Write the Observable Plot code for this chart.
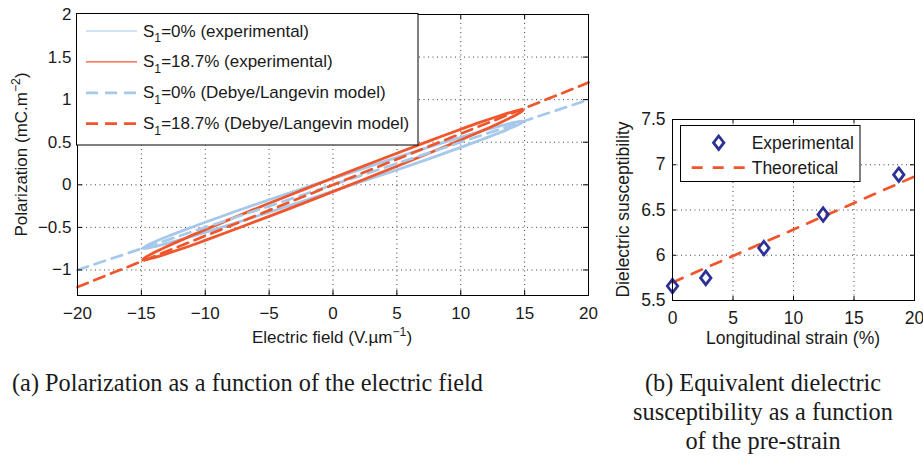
<!DOCTYPE html>
<html>
<head>
<meta charset="utf-8">
<script src="https://cdn.jsdelivr.net/npm/d3@7"></script>
<script src="https://cdn.jsdelivr.net/npm/@observablehq/plot@0.6"></script>
<style>
  html, body { margin: 0; padding: 0; background: #fff; }
  #root { position: relative; width: 923px; height: 465px; background: #fff; overflow: hidden; }
  #root svg { position: absolute; top: 0; }
  .cap { position: absolute; font-family: "Liberation Serif", "Times New Roman", serif; font-size: 24.3px; color: #1a1a1a; white-space: nowrap; line-height: 29px; }
</style>
</head>
<body>
<div id="root"></div>
<script>
// ---------- Data (a): polarization vs electric field ----------
const loopField = [-14.9,-14.6,-14,-13,-11.5,-10,-7.5,-5,-2.5,0,2.5,5,7.5,10,11.5,13,14,14.6,14.9,
                   14.6,14,13,11.5,10,7.5,5,2.5,0,-2.5,-5,-7.5,-10,-11.5,-13,-14,-14.6,-14.9];
const loopPolS0 = [-0.745,-0.714,-0.672,-0.610,-0.523,-0.440,-0.305,-0.176,-0.050,0.075,0.199,0.322,0.443,0.558,0.625,0.688,0.727,0.745,0.745,
                   0.714,0.672,0.610,0.523,0.440,0.305,0.176,0.050,-0.075,-0.199,-0.322,-0.443,-0.558,-0.625,-0.688,-0.727,-0.745,-0.745];
const loopPolS187 = [-0.88,-0.844,-0.796,-0.724,-0.624,-0.526,-0.370,-0.217,-0.068,0.080,0.227,0.371,0.513,0.652,0.733,0.808,0.855,0.878,0.88,
                     0.844,0.796,0.724,0.624,0.526,0.370,0.217,0.068,-0.080,-0.227,-0.371,-0.513,-0.652,-0.733,-0.808,-0.855,-0.878,-0.88];
const modelField = [-20, 20];
const modelPolS0 = [-1.0, 1.0];
const modelPolS187 = [-1.2, 1.2];
const xTicksA = [-20,-15,-10,-5,0,5,10,15,20];
const yTicksA = [-1,-0.5,0,0.5,1,1.5,2];
const legendA = ["=0% (experimental)", "=18.7% (experimental)", "=0% (Debye/Langevin model)", "=18.7% (Debye/Langevin model)"];

// ---------- Data (b): susceptibility vs strain ----------
const strain = [0, 2.75, 7.55, 12.45, 18.7];
const susceptibility = [5.66, 5.75, 6.08, 6.45, 6.89];
const theoStrain = [0, 20];
const theoSusceptibility = [5.70, 6.87];
const xTicksB = [0,5,10,15,20];
const yTicksB = [5.5,6,6.5,7,7.5];
const legendB = ["Experimental", "Theoretical"];

const captionA = "(a) Polarization as a function of the electric field";
const captionB = ["(b) Equivalent dielectric", "susceptibility as a function", "of the pre-strain"];

// ---------- styles ----------
const BLUE = "#a6c8ea", RED = "#f1552b", NAVY = "#2c3194";
const FONT = "'Liberation Sans', Arial, Helvetica, sans-serif";
const fmt = d3.format("~g");
const toPts = (xs, ys) => xs.map((x, i) => ({x, y: ys[i]}));

const tallDiamond = {
  draw(context, size) {
    const r = Math.sqrt(size / Math.PI);
    context.moveTo(0, -r * 1.3);
    context.lineTo(r, 0);
    context.lineTo(0, r * 1.3);
    context.lineTo(-r, 0);
    context.closePath();
  }
};

function richText(sel, parts, size) {
  let prev = "";
  parts.forEach(([t, k]) => {
    let dy = 0;
    if (prev === "sup") dy += 0.42 * size;
    if (prev === "sub") dy -= 0.32 * size;
    if (k === "sup") dy -= 0.42 * size;
    if (k === "sub") dy += 0.32 * size;
    sel.append("tspan").attr("dy", dy).attr("font-size", k ? size * 0.72 : size).text(t);
    prev = k;
  });
}

function frameTicks(xt, yt, xd, yd, w, h, ml, mr, mt, mb, len) {
  const kx = (xd[1] - xd[0]) / (w - ml - mr) * len;
  const ky = (yd[1] - yd[0]) / (h - mt - mb) * len;
  return [
    Plot.ruleX(xt, {x: d => d, y1: yd[0], y2: yd[0] + ky, stroke: "#000", strokeWidth: 1}),
    Plot.ruleX(xt, {x: d => d, y1: yd[1], y2: yd[1] - ky, stroke: "#000", strokeWidth: 1}),
    Plot.ruleY(yt, {y: d => d, x1: xd[0], x2: xd[0] + kx, stroke: "#000", strokeWidth: 1}),
    Plot.ruleY(yt, {y: d => d, x1: xd[1], x2: xd[1] - kx, stroke: "#000", strokeWidth: 1})
  ];
}

const root = document.getElementById("root");

// ---------- Plot (a) ----------
const A = {w: 600, h: 350, ml: 77, mr: 12, mt: 14, mb: 55, xd: [-20, 20], yd: [-1.3, 2]};
const plotA = Plot.plot({
  width: A.w, height: A.h,
  marginLeft: A.ml, marginRight: A.mr, marginTop: A.mt, marginBottom: A.mb,
  style: {fontFamily: FONT, fontSize: "17px", color: "#1a1a1a", background: "transparent", overflow: "visible"},
  x: {domain: A.xd, label: null},
  y: {domain: A.yd, label: null},
  marks: [
    Plot.gridX(xTicksA.slice(1, -1), {stroke: "#000", strokeOpacity: 0.75, strokeDasharray: "1,3.5"}),
    Plot.gridY(yTicksA.slice(0, -1), {stroke: "#000", strokeOpacity: 0.75, strokeDasharray: "1,3.5"}),
    Plot.line(toPts(loopField, loopPolS0), {x: "x", y: "y", stroke: BLUE, strokeWidth: 2.8, curve: "catmull-rom"}),
    Plot.line(toPts(loopField, loopPolS187), {x: "x", y: "y", stroke: RED, strokeWidth: 2.8, curve: "catmull-rom"}),
    Plot.line(toPts(modelField, modelPolS0), {x: "x", y: "y", stroke: BLUE, strokeWidth: 2.7, strokeDasharray: "11,7"}),
    Plot.line(toPts(modelField, modelPolS187), {x: "x", y: "y", stroke: RED, strokeWidth: 2.7, strokeDasharray: "11,7"}),
    ...frameTicks(xTicksA, yTicksA, A.xd, A.yd, A.w, A.h, A.ml, A.mr, A.mt, A.mb, 5),
    Plot.frame({stroke: "#000", strokeWidth: 1}),
    Plot.axisX({ticks: xTicksA, tickFormat: fmt, tickSize: 0, tickPadding: 11, label: null}),
    Plot.axisY({ticks: yTicksA, tickFormat: fmt, tickSize: 0, tickPadding: 6, label: null})
  ]
});
plotA.style.left = "0px";
root.appendChild(plotA);
{
  const s = d3.select(plotA);
  s.append("text").attr("x", 332).attr("y", 343).attr("text-anchor", "middle")
    .attr("font-family", FONT).attr("fill", "#1a1a1a")
    .call(t => richText(t, [["Electric field (V.µm", ""], ["−1", "sup"], [")", ""]], 17));
  s.append("text").attr("transform", "translate(27,154.5) rotate(-90)").attr("text-anchor", "middle")
    .attr("font-family", FONT).attr("fill", "#1a1a1a")
    .call(t => richText(t, [["Polarization (mC.m", ""], ["−2", "sup"], [")", ""]], 17));
  // legend
  const g = s.append("g");
  g.append("rect").attr("x", 76.5).attr("y", 13.5).attr("width", 341.5).attr("height", 131.5)
    .attr("fill", "#fff").attr("stroke", "#000").attr("stroke-width", 1);
  const cols = [BLUE, RED, BLUE, RED];
  legendA.forEach((lab, i) => {
    const yb = 36.5 + i * 30.9;
    g.append("line").attr("x1", 86).attr("x2", 137).attr("y1", yb - 5.5).attr("y2", yb - 5.5)
      .attr("stroke", cols[i]).attr("stroke-width", i < 2 ? 1.2 : 2.7)
      .attr("stroke-dasharray", i < 2 ? null : "12,7");
    g.append("text").attr("x", 143).attr("y", yb).attr("text-anchor", "start")
      .attr("font-family", FONT).attr("fill", "#1a1a1a")
      .call(t => richText(t, [["S", ""], ["1", "sub"], [lab, ""]], 17));
  });
}

// ---------- Plot (b) ----------
const B = {w: 323, h: 350, ml: 72, mr: 9, mt: 119, mb: 50, xd: [0, 20], yd: [5.5, 7.5]};
const plotB = Plot.plot({
  width: B.w, height: B.h,
  marginLeft: B.ml, marginRight: B.mr, marginTop: B.mt, marginBottom: B.mb,
  style: {fontFamily: FONT, fontSize: "17.5px", color: "#1a1a1a", background: "transparent", overflow: "visible"},
  x: {domain: B.xd, label: null},
  y: {domain: B.yd, label: null},
  marks: [
    Plot.gridX(xTicksB.slice(1, -1), {stroke: "#000", strokeOpacity: 0.75, strokeDasharray: "1,3.5"}),
    Plot.gridY(yTicksB.slice(1, -1), {stroke: "#000", strokeOpacity: 0.75, strokeDasharray: "1,3.5"}),
    Plot.line(toPts(theoStrain, theoSusceptibility), {x: "x", y: "y", stroke: RED, strokeWidth: 2.7, strokeDasharray: "11,10"}),
    Plot.dot(toPts(strain, susceptibility), {x: "x", y: "y", r: 5.2, symbol: tallDiamond, stroke: NAVY, strokeWidth: 2.8, fill: "none"}),
    ...frameTicks(xTicksB, yTicksB, B.xd, B.yd, B.w, B.h, B.ml, B.mr, B.mt, B.mb, 4),
    Plot.frame({stroke: "#000", strokeWidth: 1}),
    Plot.axisX({ticks: xTicksB, tickFormat: fmt, tickSize: 0, tickPadding: 11, label: null}),
    Plot.axisY({ticks: yTicksB, tickFormat: fmt, tickSize: 0, tickPadding: 7, label: null})
  ]
});
plotB.style.left = "600px";
root.appendChild(plotB);
{
  const s = d3.select(plotB);
  s.append("text").attr("x", 193).attr("y", 344).attr("text-anchor", "middle")
    .attr("font-family", FONT).attr("font-size", 17.5).attr("fill", "#1a1a1a").text("Longitudinal strain (%)");
  s.append("text").attr("transform", "translate(29,209.5) rotate(-90)").attr("text-anchor", "middle")
    .attr("font-family", FONT).attr("font-size", 17.5).attr("fill", "#1a1a1a").text("Dielectric susceptibility");
  const g = s.append("g");
  g.append("rect").attr("x", 80.5).attr("y", 125.5).attr("width", 179.5).attr("height", 56)
    .attr("fill", "#fff").attr("stroke", "#000").attr("stroke-width", 1);
  g.append("path").attr("d", "M118.7,136L123.9,142.7L118.7,149.4L113.5,142.7Z")
    .attr("fill", "none").attr("stroke", NAVY).attr("stroke-width", 2.8);
  g.append("line").attr("x1", 91.7).attr("x2", 145).attr("y1", 167.7).attr("y2", 167.7)
    .attr("stroke", RED).attr("stroke-width", 2.7).attr("stroke-dasharray", "11,10");
  legendB.forEach((lab, i) => {
    g.append("text").attr("x", 151.7).attr("y", 148.7 + i * 25).attr("text-anchor", "start")
      .attr("font-family", FONT).attr("font-size", 17.5).attr("fill", "#1a1a1a").text(lab);
  });
}

// ---------- captions ----------
const capA = document.createElement("div");
capA.className = "cap";
capA.style.left = "12px"; capA.style.top = "368px";
capA.textContent = captionA;
root.appendChild(capA);
const capB = document.createElement("div");
capB.className = "cap";
capB.style.left = "600px"; capB.style.width = "326px"; capB.style.top = "368px"; capB.style.textAlign = "center";
capB.innerHTML = captionB.map(s => `<div>${s}</div>`).join("");
root.appendChild(capB);
</script>
</body>
</html>
